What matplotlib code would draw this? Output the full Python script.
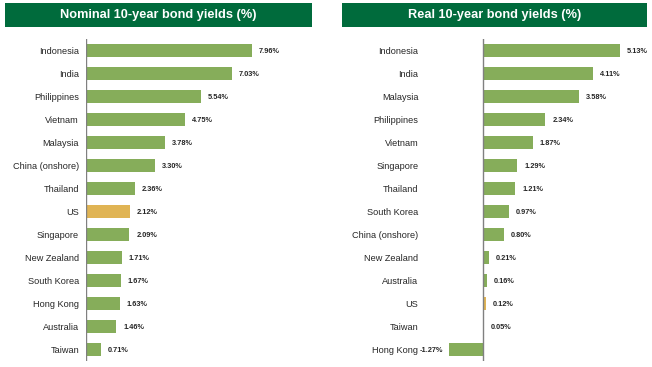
import matplotlib.pyplot as plt

plt.rcParams['font.family'] = ['Liberation Sans', 'DejaVu Sans']

# nominal yields, top to bottom
nom_countries = ['Indonesia', 'India', 'Philippines', 'Vietnam', 'Malaysia', 'China (onshore)',
                 'Thailand', 'US', 'Singapore', 'New Zealand', 'South Korea', 'Hong Kong',
                 'Australia', 'Taiwan']
nom_values = [7.96, 7.03, 5.54, 4.75, 3.78, 3.30, 2.36, 2.12, 2.09, 1.71, 1.67, 1.63, 1.46, 0.71]

# real yields, top to bottom
real_countries = ['Indonesia', 'India', 'Malaysia', 'Philippines', 'Vietnam', 'Singapore',
                  'Thailand', 'South Korea', 'China (onshore)', 'New Zealand', 'Australia',
                  'US', 'Taiwan', 'Hong Kong']
real_values = [5.13, 4.11, 3.58, 2.34, 1.87, 1.29, 1.21, 0.97, 0.80, 0.21, 0.16, 0.12, 0.05, -1.27]

titles = ['Nominal 10-year bond yields (%)', 'Real 10-year bond yields (%)']

GREEN = '#86ad5a'
GOLD = '#e0b454'
DARK = '#006b3c'

W, H = 652, 367
fig = plt.figure(figsize=(W / 100, H / 100), dpi=100)


def px_axes(x0, x1, y0, y1):
    return fig.add_axes([x0 / W, 1 - y1 / H, (x1 - x0) / W, (y1 - y0) / H])


def title_bar(x0, x1, text):
    tax = px_axes(x0, x1, 3, 27)
    tax.set_facecolor(DARK)
    tax.set_xticks([])
    tax.set_yticks([])
    for s in tax.spines.values():
        s.set_visible(False)
    tax.text(0.5, 0.5, text, color='white', fontsize=9.2, fontweight='bold',
             ha='center', va='center', transform=tax.transAxes)


def panel(ax, countries, values, pad):
    n = len(countries)
    ypos = list(range(n))
    colors = [GOLD if c == 'US' else GREEN for c in countries]
    ax.barh(ypos, values, height=0.57, color=colors)
    ax.set_ylim(n - 0.5, -0.5)
    ax.set_yticks(ypos)
    ax.set_yticklabels(countries, fontsize=6.6, color='#262626')
    ax.tick_params(axis='y', length=0, pad=pad)
    ax.set_xticks([])
    for s in ax.spines.values():
        s.set_visible(False)
    ax.axvline(0, color='#808080', lw=1)
    for y, v in zip(ypos, values):
        if v >= 0:
            ax.annotate(f'{v:.2f}%', (v, y), xytext=(5, -1), textcoords='offset points',
                        ha='left', va='center', fontsize=5.3, fontweight='bold', color='#262626')
        else:
            ax.annotate(f'{v:.2f}%', (v, y), xytext=(-4, -1), textcoords='offset points',
                        ha='right', va='center', fontsize=5.3, fontweight='bold', color='#262626')


title_bar(5, 312, titles[0])
title_bar(342, 647, titles[1])

ax1 = px_axes(86, 294, 39, 361)
ax1.set_xlim(0, 10)
panel(ax1, nom_countries, nom_values, 5)

ax2 = px_axes(449, 640, 39, 361)
ax2.set_xlim(-1.27, 5.88)
panel(ax2, real_countries, real_values, 22)

fig.savefig('out.png', dpi=100)
